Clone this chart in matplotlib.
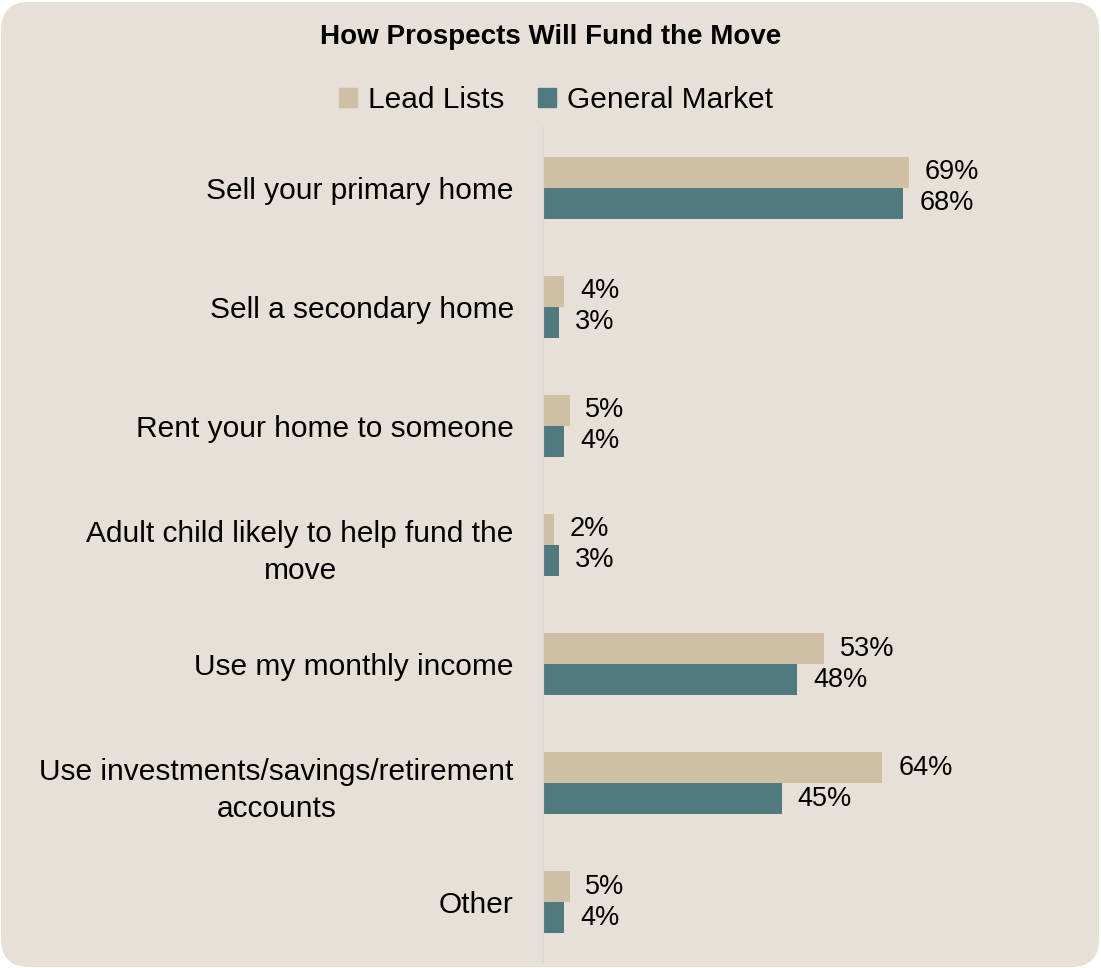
import matplotlib.pyplot as plt
import numpy as np
from matplotlib.patches import FancyBboxPatch, Patch
from matplotlib.transforms import IdentityTransform

categorias = [
    'Sell your primary home',
    'Sell a secondary home',
    'Rent your home to someone',
    'Adult child likely to help fund the\nmove',
    'Use my monthly income',
    'Use investments/savings/retirement\naccounts',
    'Other',
]
lead_lists = [69, 4, 5, 2, 53, 64, 5]
general_market = [68, 3, 4, 3, 48, 45, 4]

c_lead = '#CFBFA5'
c_gen = '#517A80'
fondo = '#E7E0D6'

plt.rcParams['font.family'] = ['Liberation Sans Narrow', 'Liberation Sans', 'DejaVu Sans']

fig = plt.figure(figsize=(11.01, 9.68), dpi=100, facecolor='white')

# fondo con esquinas redondeadas (en pixeles)
caja = FancyBboxPatch((1, 1), 1098, 965, boxstyle='round,pad=0,rounding_size=28',
                      transform=IdentityTransform(), facecolor=fondo, edgecolor='none', zorder=0)
fig.add_artist(caja)

ax = fig.add_axes([0.4932, 0.0062, 0.4814, 0.8616])
ax.set_facecolor('none')

y = np.arange(len(categorias))
h = 0.26
b1 = ax.barh(y - h / 2, lead_lists, height=h, color=c_lead, label='Lead Lists')
b2 = ax.barh(y + h / 2, general_market, height=h, color=c_gen, label='General Market')

for barras, vals in [(b1, lead_lists), (b2, general_market)]:
    for b, v in zip(barras, vals):
        ax.text(b.get_width() + 3, b.get_y() + b.get_height() / 2, f'{v}%',
                va='center', ha='left', fontsize=19.5)

ax.set_xlim(0, 100)
ax.set_ylim(len(categorias) - 0.5, -0.5)
ax.set_yticks(y)
ax.set_yticklabels(categorias, fontsize=21.5, multialignment='center', linespacing=1.4)
ax.tick_params(axis='y', length=0, pad=21)
ax.set_xticks([])
for s in ['top', 'right', 'bottom']:
    ax.spines[s].set_visible(False)
ax.spines['left'].set_color('#D9D9D9')
ax.spines['left'].set_linewidth(1.5)

fig.text(0.5, 0.962, 'How Prospects Will Fund the Move', ha='center', va='center',
         fontsize=20, fontweight='bold')

manijas = [Patch(color=c_lead, label='Lead Lists'), Patch(color=c_gen, label='General Market')]
fig.legend(handles=manijas, loc='center', bbox_to_anchor=(0.505, 0.897), ncol=2,
           frameon=False, fontsize=21.5, handlelength=0.6, handleheight=0.6,
           handletextpad=0.35, columnspacing=1.15)

plt.savefig('out.png', dpi=100, facecolor='white')
